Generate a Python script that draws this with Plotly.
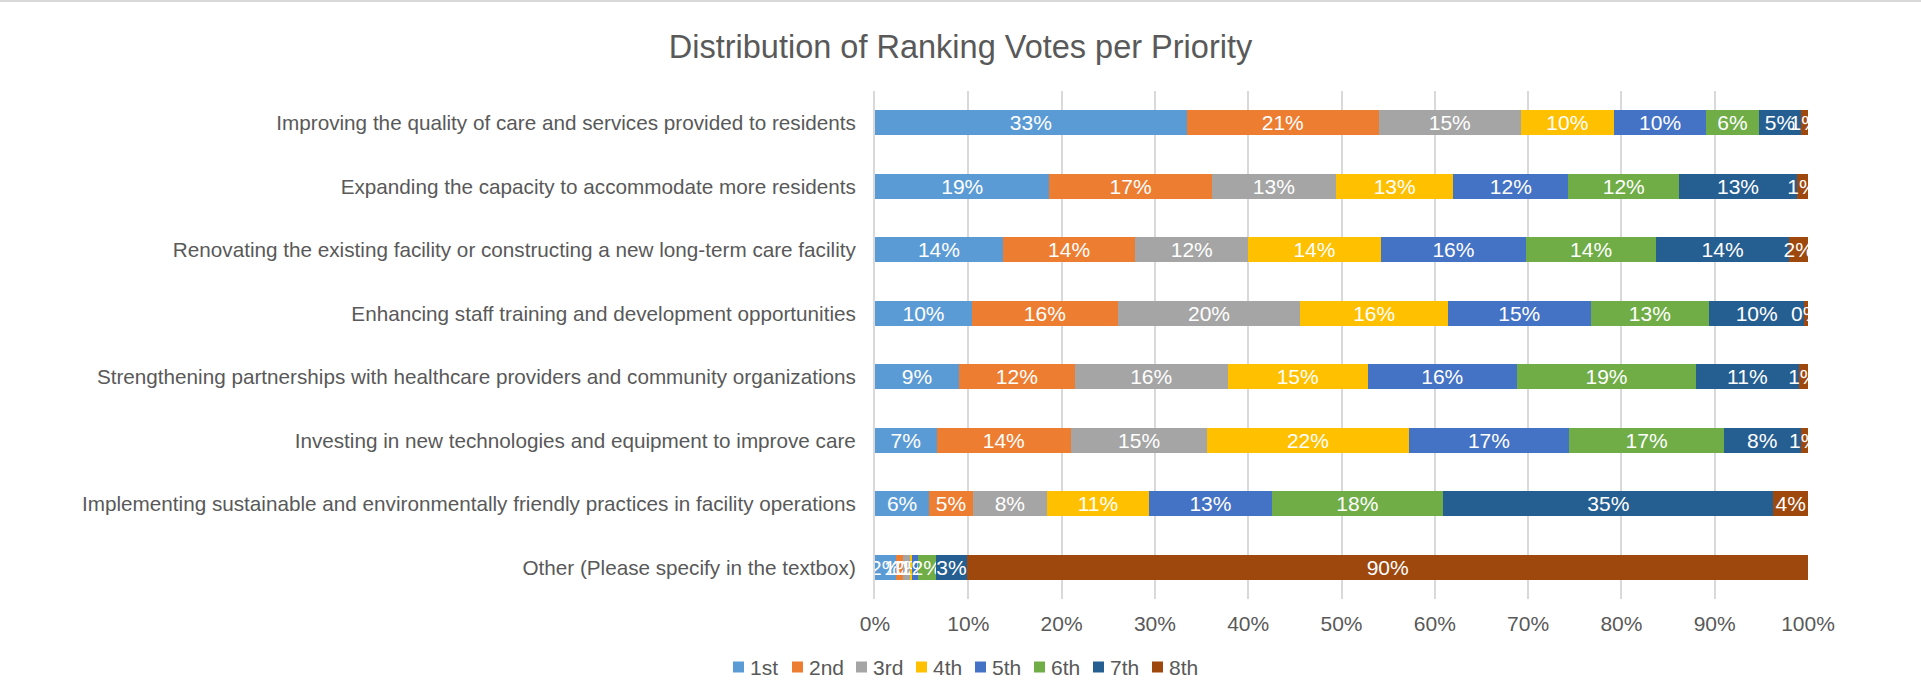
import plotly.graph_objects as go

priorities = [
    "Improving the quality of care and services provided to residents",
    "Expanding the capacity to accommodate more residents",
    "Renovating the existing facility or constructing a new long-term care facility",
    "Enhancing staff training and development opportunities",
    "Strengthening partnerships with healthcare providers and community organizations",
    "Investing in new technologies and equipment to improve care",
    "Implementing sustainable and environmentally friendly practices in facility operations",
    "Other (Please specify in the textbox)",
]

rank_names = ["1st", "2nd", "3rd", "4th", "5th", "6th", "7th", "8th"]

# share of votes (%) per priority, one list per rank
rank_1st = [33.4, 18.7, 13.7, 10.4, 9.0, 6.6, 5.8, 2.2]
rank_2nd = [20.6, 17.4, 14.2, 15.6, 12.4, 14.4, 4.7, 0.8]
rank_3rd = [15.2, 13.3, 12.1, 19.6, 16.4, 14.6, 7.9, 0.8]
rank_4th = [10.0, 12.6, 14.2, 15.8, 15.0, 21.6, 11.0, 0.2]
rank_5th = [9.9, 12.3, 15.6, 15.3, 16.0, 17.2, 13.1, 0.6]
rank_6th = [5.6, 11.9, 13.9, 12.7, 19.2, 16.6, 18.4, 1.9]
rank_7th = [4.6, 12.6, 14.3, 10.2, 11.0, 8.2, 35.4, 3.4]
rank_8th = [0.7, 1.2, 2.0, 0.4, 1.0, 0.8, 3.7, 90.1]

rank_values = [rank_1st, rank_2nd, rank_3rd, rank_4th, rank_5th, rank_6th, rank_7th, rank_8th]
rank_colors = ["#5B9BD5", "#ED7D31", "#A5A5A5", "#FFC000", "#4472C4", "#70AD47", "#255E91", "#9E480E"]

FONT = "Liberation Sans, Arial, sans-serif"
GREY = "#595959"

W, H = 1921, 685
M_L, M_R, M_T, M_B = 875, 113, 91, 86
PLOT_W = W - M_L - M_R
PLOT_H = H - M_T - M_B


def px_to_paper(x, y):
    return (x - M_L) / PLOT_W, (H - M_B - y) / PLOT_H


fig = go.Figure()
for name, values, color in zip(rank_names, rank_values, rank_colors):
    fig.add_trace(
        go.Bar(
            y=priorities,
            x=values,
            name=name,
            orientation="h",
            marker={"color": color, "line": {"width": 0}},
            texttemplate="%{x:.0f}%",
            textposition="inside",
            insidetextanchor="middle",
            textangle=0,
            constraintext="none",
            textfont={"color": "white", "size": 21, "family": FONT},
            hovertemplate="%{y}<br>" + name + ": %{x:.1f}%<extra></extra>",
            showlegend=False,
        )
    )

# compact Excel-style legend: small squares with the rank name next to them
legend_left = [733, 792, 856, 916, 975, 1034, 1093, 1152]
legend_mid_y = 667
shapes = []
annotations = []
for name, color, left in zip(rank_names, rank_colors, legend_left):
    x0, y0 = px_to_paper(left, legend_mid_y + 5.5)
    x1, y1 = px_to_paper(left + 11, legend_mid_y - 5.5)
    shapes.append(
        {
            "type": "rect",
            "xref": "paper",
            "yref": "paper",
            "x0": x0,
            "x1": x1,
            "y0": y0,
            "y1": y1,
            "fillcolor": color,
            "line": {"width": 0},
        }
    )
    tx, ty = px_to_paper(left + 15, legend_mid_y)
    annotations.append(
        {
            "text": name,
            "xref": "paper",
            "yref": "paper",
            "x": tx,
            "y": ty,
            "xanchor": "left",
            "yanchor": "middle",
            "showarrow": False,
            "font": {"size": 21, "color": GREY, "family": FONT},
        }
    )

# thin chart border line across the top
bx0, by = px_to_paper(0, 1)
bx1, _ = px_to_paper(W, 1)
shapes.append(
    {
        "type": "line",
        "xref": "paper",
        "yref": "paper",
        "x0": bx0,
        "x1": bx1,
        "y0": by,
        "y1": by,
        "line": {"color": "#d9d9d9", "width": 2},
    }
)

fig.update_layout(
    width=W,
    height=H,
    barmode="stack",
    bargap=0.6,
    showlegend=False,
    plot_bgcolor="white",
    paper_bgcolor="white",
    font={"family": FONT, "size": 21, "color": GREY},
    title={
        "text": "Distribution of Ranking Votes per Priority",
        "x": 0.5,
        "xanchor": "center",
        "y": 1 - 47 / H,
        "yanchor": "middle",
        "yref": "container",
        "font": {"size": 32.5, "color": GREY, "family": FONT},
    },
    margin={"l": M_L, "r": M_R, "t": M_T, "b": M_B, "autoexpand": False},
    xaxis={
        "range": [0, 100],
        "dtick": 10,
        "ticksuffix": "%",
        "showgrid": True,
        "gridcolor": "#d9d9d9",
        "gridwidth": 2,
        "zeroline": False,
        "showline": False,
        "automargin": False,
        "ticklabelstandoff": 10,
        "tickfont": {"size": 21, "color": GREY},
    },
    yaxis={
        "autorange": "reversed",
        "showline": True,
        "linecolor": "#d9d9d9",
        "linewidth": 2,
        "showgrid": False,
        "automargin": False,
        "ticklabelstandoff": 13,
        "tickfont": {"size": 20.7, "color": GREY},
    },
    shapes=shapes,
    annotations=annotations,
)

fig.write_html(
    "out.html",
    config={"displayModeBar": False},
    post_script="document.body.style.margin = '0';",
)
